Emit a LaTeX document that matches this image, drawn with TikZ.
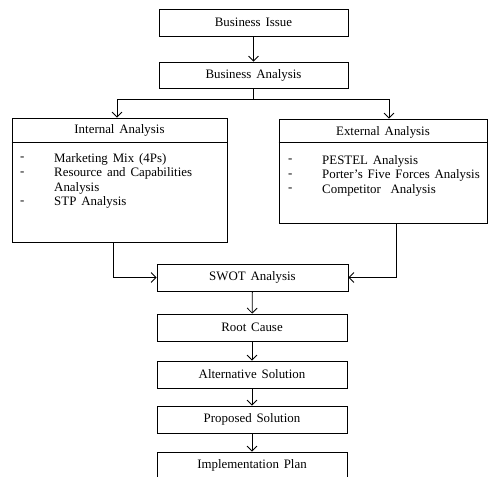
\documentclass[tikz,border=0pt]{standalone}
\usepackage{fontspec}
\setmainfont{Liberation Serif}[WordSpace=1.5]
\usetikzlibrary{arrows.meta}
\begin{document}
\begin{tikzpicture}[x=1pt,y=-1pt,
  txt/.style={font=\fontsize{12.9}{14.5}\selectfont},
  box/.style={draw, line width=0.8pt, inner sep=0pt, txt},
  lbl/.style={inner sep=0pt, txt},
  arr/.style={line width=0.8pt, -{Straight Barb[length=5pt,width=10pt,line width=0.8pt]}},
  ln/.style={line width=0.8pt}]
\useasboundingbox (0,0) rectangle (488,477);
% main flow
\node[box, minimum width=189pt, minimum height=27pt] (issue) at (253.5,22.5) {Business Issue};
\node[box, minimum width=189pt, minimum height=26pt] (analysis) at (253.5,75) {Business Analysis};
% internal
\node[box, minimum width=215pt, minimum height=124pt] (internal) at (119.5,180) {};
\node[lbl] (inthead) at (119.5,130.5) {Internal Analysis};
\draw[ln] ([yshift=-25pt]internal.north west) -- ([yshift=-25pt]internal.north east);
\node[lbl, anchor=west] (id1) at (20,159) {-};
\node[lbl, anchor=west] (it1) at (54,159) {Marketing Mix (4Ps)};
\node[lbl, anchor=west] (id2) at (20,173.5) {-};
\node[lbl, anchor=west] (it2) at (54,173.5) {Resource and Capabilities};
\node[lbl, anchor=west] (it2b) at (54,188) {Analysis};
\node[lbl, anchor=west] (id3) at (20,202.5) {-};
\node[lbl, anchor=west] (it3) at (54,202.5) {STP Analysis};
% external
\node[box, minimum width=208pt, minimum height=104pt] (external) at (383,171) {};
\node[lbl] (exthead) at (383,132) {External Analysis};
\draw[ln] ([yshift=-24pt]external.north west) -- ([yshift=-24pt]external.north east);
\node[lbl, anchor=west] (ed1) at (288,161) {-};
\node[lbl, anchor=west] (et1) at (322,161) {PESTEL Analysis};
\node[lbl, anchor=west] (ed2) at (288,175.5) {-};
\node[lbl, anchor=west] (et2) at (322,175.5) {Porter's Five Forces Analysis};
\node[lbl, anchor=west] (ed3) at (288,190) {-};
\node[lbl, anchor=west] (et3) at (322,190) {Competitor\ \ Analysis};
% lower flow
\node[box, minimum width=191pt, minimum height=27pt] (swot) at (252.5,277.5) {SWOT Analysis};
\node[box, minimum width=190pt, minimum height=27pt] (root) at (252,327.5) {Root Cause};
\node[box, minimum width=190pt, minimum height=27pt] (alt) at (252,374.5) {Alternative Solution};
\node[box, minimum width=190pt, minimum height=27pt] (prop) at (252,419.5) {Proposed Solution};
\node[box, minimum width=190pt, minimum height=27pt] (impl) at (252,465.5) {Implementation Plan};
% connectors
\coordinate (hl) at (117,99);
\coordinate (hr) at (389,99);
\draw[arr] (issue) -- (analysis);
\draw[ln] (analysis.south) -- (analysis.south |- hl);
\draw[ln] (hl) -- (hr);
\draw[arr] (hl) -- (hl |- internal.north);
\draw[arr] (hr) -- (hr |- external.north);
\draw[arr] ([xshift=-6.5pt]internal.south) |- (swot.west);
\draw[arr] ([xshift=13pt]external.south) |- (swot.east);
\draw[arr] (swot) -- (root);
\draw[arr] (root) -- (alt);
\draw[arr] (alt) -- (prop);
\draw[arr] (prop) -- (impl);
\end{tikzpicture}
\end{document}
